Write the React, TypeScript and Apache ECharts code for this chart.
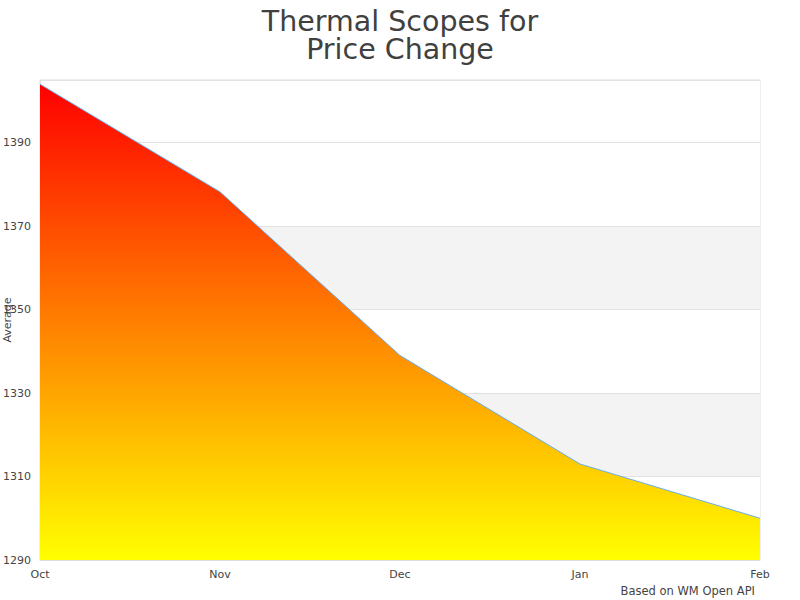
import { useEffect, useRef } from "react";
import * as echarts from "echarts";

const months = ["Oct", "Nov", "Dec", "Jan", "Feb"];
const averages = [1404, 1378.2, 1339, 1313, 1300];
const yMin = 1290;
const yMax = 1405;
const yStep = 20;

export default function App() {
  const elRef = useRef<HTMLDivElement>(null);

  useEffect(() => {
    if (!elRef.current) return;
    const chart = echarts.init(elRef.current, undefined, { renderer: "svg" });
    const font = "DejaVu Sans";
    chart.setOption({
      animation: false,
      backgroundColor: "#fff",
      textStyle: { fontFamily: font },
      title: [
        {
          text: "Thermal Scopes for\nPrice Change",
          left: "center",
          top: 2,
          textStyle: { fontFamily: font, fontSize: 28.5, fontWeight: "normal", color: "#404040", lineHeight: 28.5 },
        },
        {
          text: "Based on WM Open API",
          right: 40,
          bottom: -2,
          textStyle: { fontFamily: font, fontSize: 11.5, fontWeight: "normal", color: "#444" },
        },
      ],
      grid: {
        left: 40, right: 40, top: 80, bottom: 40,
        containLabel: false, outerBoundsMode: "none",
        show: true, borderColor: "#ddd", borderWidth: 1,
      },
      xAxis: {
        type: "category",
        data: months,
        boundaryGap: false,
        axisLine: { lineStyle: { color: "#ddd" } },
        axisTick: { show: false },
        axisLabel: { color: "#444", fontSize: 11, margin: 9 },
        splitLine: { show: false },
      },
      yAxis: {
        type: "value",
        min: yMin,
        max: yMax,
        interval: yStep,
        name: "Average",
        nameLocation: "middle",
        nameGap: 27,
        nameMoveOverlap: false,
        nameTextStyle: { color: "#444", fontSize: 11 },
        axisLine: { show: true, lineStyle: { color: "#ddd" } },
        axisTick: { show: false },
        axisLabel: {
          color: "#444", fontSize: 11, align: "left", margin: 37, showMaxLabel: false,
          formatter: (v: number) => String(v),
        },
        splitLine: { lineStyle: { color: "#e2e2e2" } },
        splitArea: { show: true, areaStyle: { color: ["#fff", "#f3f3f3", "#fff", "#f3f3f3", "#fff", "#fff"] } },
      },
      series: [
        {
          type: "line",
          data: averages,
          showSymbol: false,
          lineStyle: { color: "#6aaee8", width: 1 },
          areaStyle: {
            opacity: 1,
            color: new echarts.graphic.LinearGradient(0, 0, 0, 1, [
              { offset: 0, color: "#ff0000" },
              { offset: 1, color: "#ffff00" },
            ]),
          },
        },
      ],
    });
    return () => chart.dispose();
  }, []);

  return <div ref={elRef} style={{ position: "absolute", left: 0, top: 0, width: 800, height: 600 }} />;
}
